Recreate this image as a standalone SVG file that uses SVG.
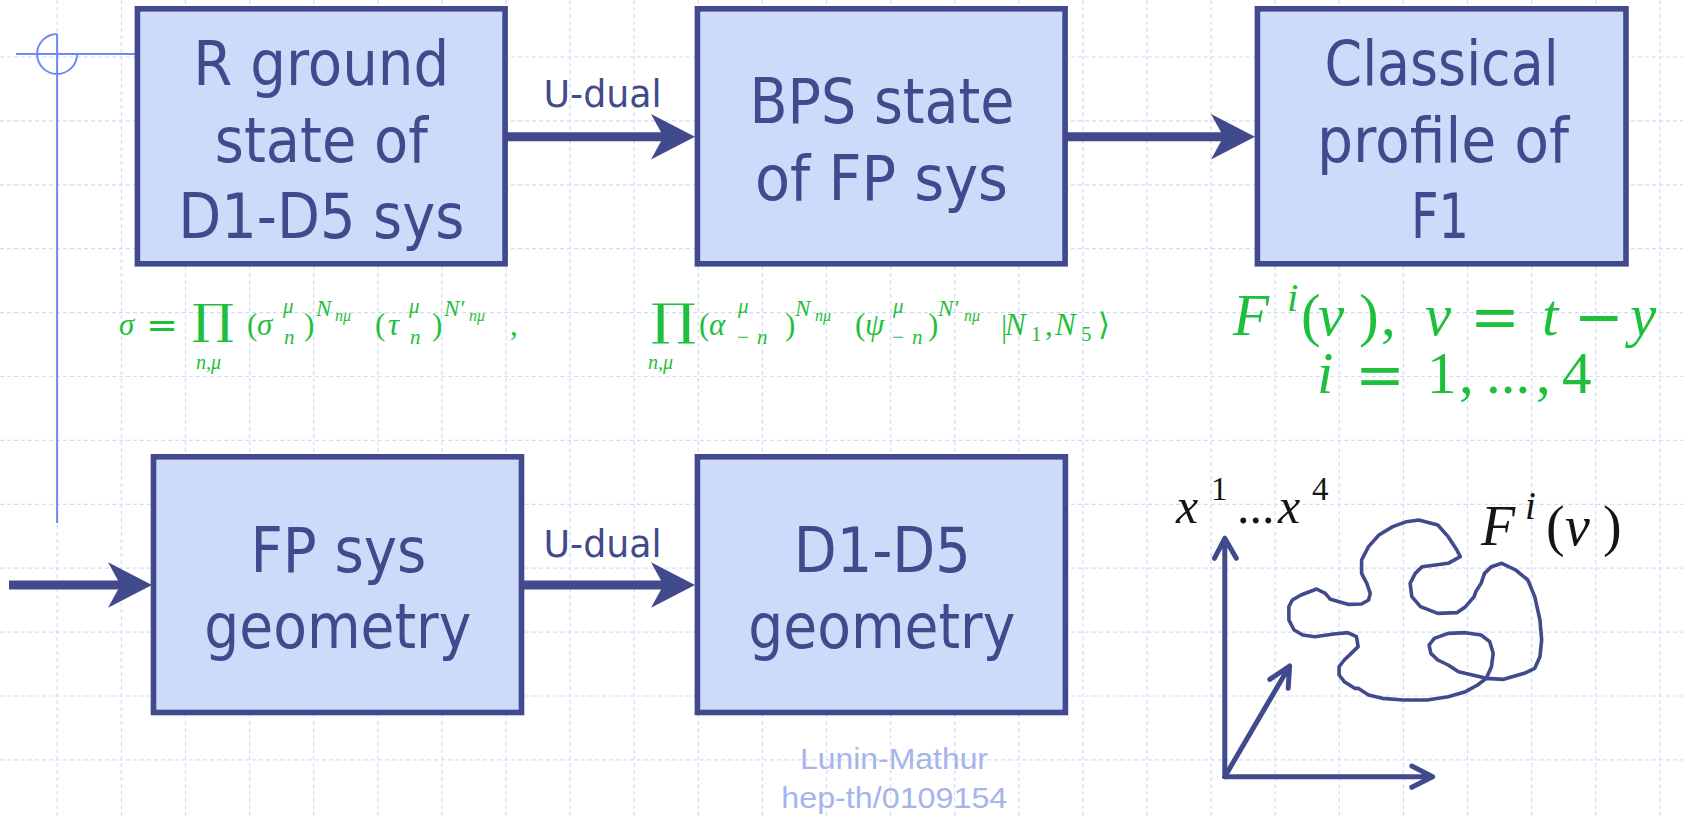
<svg xmlns="http://www.w3.org/2000/svg" width="1683" height="817" viewBox="0 0 1683 817">
<style>
.grid{fill:none;stroke:#D3DCF8;stroke-width:1.2;stroke-dasharray:4 3}
.decor{fill:none;stroke:#6F88F2;stroke-width:2}
.box{fill:#CDDAF9;stroke:#414A8C;stroke-width:5.6}
.lbl{font-family:"DejaVu Sans Condensed","DejaVu Sans",sans-serif;font-size:62px;fill:#414A8C;text-anchor:middle}
.edl{font-family:"DejaVu Sans Condensed","DejaVu Sans",sans-serif;font-size:37px;fill:#414A8C;text-anchor:middle}
.edge{fill:none;stroke:#414A8C;stroke-width:9;marker-end:url(#ah)}
.m{font-family:"Liberation Serif","DejaVu Serif",serif;fill:#1EBF3C}
.k{font-family:"Liberation Serif","DejaVu Serif",serif;fill:#151515}
.it{font-style:italic}
.op{font-family:"DejaVu Serif",serif;font-style:normal}
.axis{fill:none;stroke:#414A8C;stroke-width:5;stroke-linecap:round;stroke-linejoin:round}
.blob{fill:none;stroke:#414A8C;stroke-width:3.6;stroke-linejoin:round;stroke-linecap:round}
.cite{font-family:"Liberation Sans",Arial,sans-serif;font-size:30px;fill:#A6B4EC;text-anchor:middle}
</style>
<defs>
<marker id="ah" markerUnits="userSpaceOnUse" markerWidth="46" markerHeight="48" viewBox="0 0 46 48" refX="34" refY="23" orient="auto">
<path d="M0,0.3 L44,23 L0,45.7 L12.5,23 Z" fill="#414A8C"/>
</marker>
</defs>
<rect width="1683" height="817" fill="#FFFFFF"/>
<g id="grid">
<path class="grid" d="M57.3 0V817M121.4 0V817M185.5 0V817M249.6 0V817M313.7 0V817M377.8 0V817M441.9 0V817M506 0V817M570.1 0V817M634.2 0V817M698.3 0V817M762.4 0V817M826.5 0V817M890.6 0V817M954.7 0V817M1018.8 0V817M1082.9 0V817M1147 0V817M1211.1 0V817M1275.2 0V817M1339.3 0V817M1403.4 0V817M1467.5 0V817M1531.6 0V817M1595.7 0V817M1659.8 0V817"/>
<path class="grid" d="M0 57H1683M0 120.9H1683M0 184.8H1683M0 248.7H1683M0 312.6H1683M0 376.5H1683M0 440.4H1683M0 504.3H1683M0 568.2H1683M0 632.1H1683M0 696H1683M0 759.9H1683"/>
</g>
<g id="decor">
<path class="decor" d="M16 54H135M57.1 34V523"/>
<path class="decor" d="M57.1 34A20 20 0 1 0 77.1 54"/>
</g>
<g id="connectors">
<path class="edge" d="M505 136.7H685"/>
<path class="edge" d="M1066 136.7H1245"/>
<path class="edge" d="M9 585H142"/>
<path class="edge" d="M522 585H685"/>
<text class="edl" x="602.5" y="106.7" textLength="118" lengthAdjust="spacingAndGlyphs">U-dual</text>
<text class="edl" x="602.5" y="556.7" textLength="118" lengthAdjust="spacingAndGlyphs">U-dual</text>
</g>
<g id="node-r-ground">
<rect class="box" x="137.4" y="8.8" width="367.7" height="255"/>
<text class="lbl" x="321.3" y="85" textLength="256" lengthAdjust="spacingAndGlyphs">R ground</text>
<text class="lbl" x="321.3" y="161.7" textLength="213" lengthAdjust="spacingAndGlyphs">state of</text>
<text class="lbl" x="321.3" y="238.3" textLength="286" lengthAdjust="spacingAndGlyphs">D1-D5 sys</text>
</g>
<g id="node-bps">
<rect class="box" x="697.4" y="8.8" width="367.7" height="255"/>
<text class="lbl" x="882" y="123.3" textLength="265" lengthAdjust="spacingAndGlyphs">BPS state</text>
<text class="lbl" x="881.5" y="200" textLength="253" lengthAdjust="spacingAndGlyphs">of FP sys</text>
</g>
<g id="node-classical">
<rect class="box" x="1257.4" y="8.8" width="368.6" height="255"/>
<text class="lbl" x="1441.6" y="85" textLength="234" lengthAdjust="spacingAndGlyphs">Classical</text>
<text class="lbl" x="1443" y="161.7" textLength="252" lengthAdjust="spacingAndGlyphs">profile of</text>
<text class="lbl" x="1440" y="238.3" textLength="58" lengthAdjust="spacingAndGlyphs">F1</text>
</g>
<g id="node-fp-geometry">
<rect class="box" x="153.5" y="456.8" width="368" height="255.7"/>
<text class="lbl" x="338.4" y="571.7" textLength="176" lengthAdjust="spacingAndGlyphs">FP sys</text>
<text class="lbl" x="337.8" y="648.3" textLength="267" lengthAdjust="spacingAndGlyphs">geometry</text>
</g>
<g id="node-d1d5-geometry">
<rect class="box" x="697.4" y="456.8" width="368" height="255.7"/>
<text class="lbl" x="882.3" y="571.7" textLength="177" lengthAdjust="spacingAndGlyphs">D1-D5</text>
<text class="lbl" x="881.8" y="648.3" textLength="267" lengthAdjust="spacingAndGlyphs">geometry</text>
</g>
<g id="formula-r">
<text class="m it" x="119" y="335" font-size="31">σ</text>
<text class="m op" x="146" y="338" font-size="38" textLength="32" lengthAdjust="spacingAndGlyphs">=</text>
<text class="m op" x="192" y="334" font-size="42" textLength="42" lengthAdjust="spacingAndGlyphs">∏</text>
<text class="m it" x="196" y="369" font-size="20">n,μ</text>
<text class="m" font-size="31"><tspan x="247" y="335">(</tspan><tspan class="it" x="257" y="335">σ</tspan><tspan class="it" x="283" y="313" font-size="21">μ</tspan><tspan class="it" x="284" y="344" font-size="21">n</tspan><tspan x="304" y="335">)</tspan><tspan class="it" x="316" y="316" font-size="23">N</tspan><tspan class="it" x="335" y="321" font-size="16">nμ</tspan><tspan x="375" y="335">(</tspan><tspan class="it" x="388" y="335">τ</tspan><tspan class="it" x="409" y="313" font-size="21">μ</tspan><tspan class="it" x="410" y="344" font-size="21">n</tspan><tspan x="432" y="335">)</tspan><tspan class="it" x="444" y="316" font-size="23">N′</tspan><tspan class="it" x="469" y="321" font-size="16">nμ</tspan><tspan x="510" y="335">,</tspan></text>
</g>
<g id="formula-bps">
<text class="m op" x="651" y="335" font-size="44" textLength="45" lengthAdjust="spacingAndGlyphs">∏</text>
<text class="m it" x="648" y="369" font-size="20">n,μ</text>
<text class="m" font-size="31"><tspan x="699" y="335">(</tspan><tspan class="it" x="709" y="335">α</tspan><tspan class="it" x="738" y="313" font-size="21">μ</tspan><tspan x="737" y="344" font-size="21">−</tspan><tspan class="it" x="757" y="344" font-size="21">n</tspan><tspan x="785" y="335">)</tspan><tspan class="it" x="795" y="316" font-size="23">N</tspan><tspan class="it" x="815" y="321" font-size="16">nμ</tspan><tspan x="855" y="335">(</tspan><tspan class="it" x="865" y="335">ψ</tspan><tspan class="it" x="893" y="313" font-size="21">μ</tspan><tspan x="892" y="344" font-size="21">−</tspan><tspan class="it" x="912" y="344" font-size="21">n</tspan><tspan x="928" y="335">)</tspan><tspan class="it" x="938" y="316" font-size="23">N′</tspan><tspan class="it" x="964" y="321" font-size="16">nμ</tspan><tspan x="1001" y="337">|</tspan><tspan class="it" x="1005" y="335">N</tspan><tspan x="1031" y="341" font-size="21">1</tspan><tspan x="1045" y="335">,</tspan><tspan class="it" x="1055" y="335">N</tspan><tspan x="1081" y="341" font-size="21">5</tspan><tspan class="op" x="1098" y="335">⟩</tspan></text>
</g>
<g id="formula-classical">
<text class="m" font-size="59"><tspan class="it" x="1233" y="335">F</tspan><tspan class="it" x="1287" y="311" font-size="41">i</tspan><tspan x="1301" y="335">(</tspan><tspan class="it" x="1318" y="335">v</tspan><tspan x="1359" y="335">)</tspan><tspan x="1381" y="335">,</tspan><tspan class="it" x="1425" y="335">v</tspan></text>
<text class="m op" x="1470" y="338" font-size="62" textLength="50" lengthAdjust="spacingAndGlyphs">=</text>
<text class="m it" x="1542" y="335" font-size="59">t</text>
<text class="m op" x="1574" y="338" font-size="62" textLength="50" lengthAdjust="spacingAndGlyphs">−</text>
<text class="m it" x="1630" y="335" font-size="59">y</text>
<text class="m it" x="1317" y="393" font-size="59">i</text>
<text class="m op" x="1355" y="396" font-size="62" textLength="50" lengthAdjust="spacingAndGlyphs">=</text>
<text class="m" font-size="59"><tspan x="1427" y="393">1</tspan><tspan x="1459" y="393">,</tspan><tspan x="1486" y="393">...</tspan><tspan x="1536" y="393">,</tspan><tspan x="1562" y="393">4</tspan></text>
</g>
<g id="profile-sketch">
<path class="axis" d="M1224.8 776.7V538.3M1214.4 558.3L1224.8 538.3L1236.3 558.3"/>
<path class="axis" d="M1224.8 776.7H1432.6M1411.8 766L1432.6 776.7L1411.8 787.3"/>
<path class="axis" d="M1224.8 776.7L1289.6 666M1269.8 679.3L1289.6 666L1288.2 688.3"/>
<path class="blob" vector-effect="non-scaling-stroke" transform="translate(1140 440) scale(0.34626 0.33333)" d="M805,240 L860,255 L890,290 L915,330 L925,350 L890,370 L815,380 L795,400 L780,430 L785,470 L810,500 L860,520 L915,518 L940,500 L965,470 L970,455 L985,430 L995,400 L1015,380 L1045,370 L1085,390 L1120,420 L1140,470 L1155,540 L1160,600 L1155,650 L1140,685 L1110,700 L1050,718 L1000,715 L960,705 L920,695 L890,675 L860,660 L840,640 L835,615 L850,595 L890,580 L940,578 L985,585 L1010,605 L1020,640 L1015,680 L1000,715 L975,735 L940,755 L890,770 L830,780 L760,780 L700,775 L660,765 L630,745 L620,745 L590,725 L575,705 L575,680 L590,660 L610,640 L630,620 L625,590 L600,578 L560,582 L505,590 L470,585 L445,570 L430,540 L430,500 L440,480 L465,465 L510,447 L535,460 L550,478 L600,493 L640,492 L660,480 L665,460 L655,430 L640,400 L640,360 L660,320 L690,285 L730,260 L770,245 Z"/>
<text class="k"><tspan class="it" x="1176" y="523" font-size="50">x</tspan><tspan x="1211" y="500" font-size="33">1</tspan><tspan x="1237" y="523" font-size="50">...</tspan><tspan class="it" x="1278" y="523" font-size="50">x</tspan><tspan x="1312" y="500" font-size="33">4</tspan></text>
<text class="k"><tspan class="it" x="1481" y="545" font-size="56">F</tspan><tspan class="it" x="1525" y="519" font-size="39">i</tspan><tspan x="1546" y="545" font-size="56">(</tspan><tspan class="it" x="1565" y="545" font-size="56">v</tspan><tspan x="1603" y="545" font-size="56">)</tspan></text>
</g>
<g id="citation">
<text class="cite" x="894" y="769.3" textLength="188" lengthAdjust="spacingAndGlyphs">Lunin-Mathur</text>
<text class="cite" x="894.3" y="808.3" textLength="226" lengthAdjust="spacingAndGlyphs">hep-th/0109154</text>
</g>
</svg>
